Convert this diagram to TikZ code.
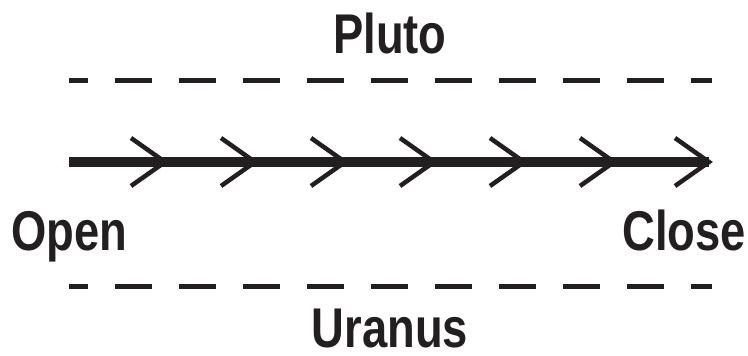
\documentclass[tikz,border=0pt]{standalone}
\usepackage{fontspec}
\newfontfamily\lblfont{Liberation Sans}[FakeStretch=0.81]
\definecolor{ink}{RGB}{35,31,32}
\tikzset{
  lbl/.style={inner sep=0pt, font=\lblfont\bfseries\fontsize{56}{60}\selectfont, text=ink},
  guide/.style={draw=ink, line width=5pt, dash pattern=on 37pt off 27pt, dash phase=18pt},
  mainline/.style={draw=ink, line width=10pt},
  chev/.style={draw=ink, line width=4.5pt, miter limit=10}
}
\begin{document}
\begin{tikzpicture}[x=1pt,y=-1pt]
\useasboundingbox (0,0) rectangle (748,356);
\node[lbl, anchor=base] (pluto) at (390,53) {Pluto};
\node[lbl, anchor=base west] (open) at (11,250) {Open};
\node[lbl, anchor=base east] (close) at (746,250) {Close};
\node[lbl, anchor=base, text depth=0pt] (uranus) at (390,347) {Uranus};
\coordinate (t1) at (69,80);
\coordinate (t2) at (712,80);
\coordinate (b1) at (69,286);
\coordinate (b2) at (712,286);
\coordinate (s) at (69,162);
\coordinate (e) at (709,162);
\draw[guide] (t1) -- (t2);
\draw[guide] (b1) -- (b2);
\draw[mainline] (s) -- (e);
\foreach \x in {165,255,345,434,524,614,709}{
  \draw[chev] (\x-34,138) -- (\x,162) -- (\x-34,186);
}
\end{tikzpicture}
\end{document}
